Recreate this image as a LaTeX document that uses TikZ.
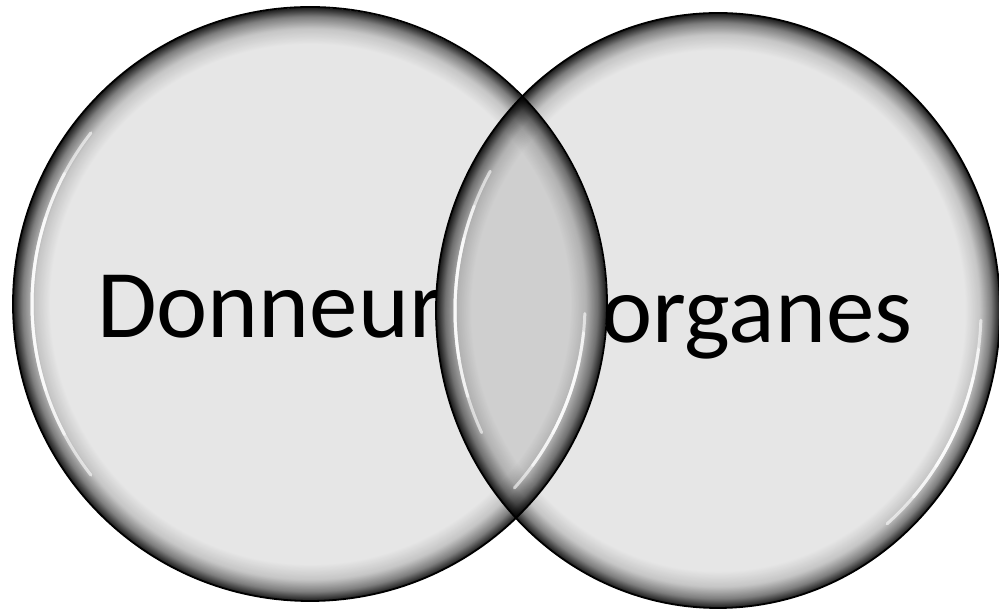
\documentclass[tikz,border=0pt]{standalone}
\usepackage{fontspec}
\setmainfont{Carlito}
\usetikzlibrary{fadings}
\definecolor{vnfill}{HTML}{E6E6E6}
\definecolor{vnlens}{HTML}{CFCFCF}
\definecolor{vnink}{HTML}{000000}

\pgfdeclareradialshading{rimshade}{\pgfpointorigin}{%
    color(0bp)=(pgftransparent!100);
    color(21.8bp)=(pgftransparent!100);
    color(23.1bp)=(pgftransparent!86);
    color(24.1bp)=(pgftransparent!55);
    color(24.7bp)=(pgftransparent!22);
    color(25bp)=(pgftransparent!6);
    color(50bp)=(pgftransparent!6)}
\pgfdeclarefading{rimfade}{\pgfuseshading{rimshade}}

\newcommand{\donneurdisc}{(cl) circle [radius=297]}
\newcommand{\organesdisc}{(cr) ellipse [x radius=282, y radius=297.5]}

\begin{document}
\begin{tikzpicture}[
    x=1pt, y=1pt,
    vnlabel/.style={
        anchor=base west,
        inner sep=0pt,
        font=\fontsize{97}{105}\selectfont,
        text=vnink
    },
    rim/.style={
        fill=black,
        path fading=rimfade
    },
    outline/.style={
        draw=black,
        line width=1.8pt
    },
    shine/.style={
        draw=white,
        opacity=0.6,
        line width=3pt,
        line cap=round
    }
]

\useasboundingbox (0,0) rectangle (999,609);
\clip (0,0) rectangle (999,609);

\coordinate (cl) at (310,305);
\coordinate (cr) at (718,298.5);

\fill[vnfill] \donneurdisc;
\fill[vnfill] \organesdisc;

\node[vnlabel] (donneur) at (97,271) {Donneur};
\node[vnlabel] (organes) at (601,266) {organes};

\begin{scope}
    \clip \donneurdisc;
    \fill[vnlens] \organesdisc;
\end{scope}

\path[rim] \donneurdisc;
\path[rim] \organesdisc;

\draw[outline] \donneurdisc;
\draw[outline] \organesdisc;

\foreach \a/\b in {162/198,152/208,142/218}
    \draw[shine] ([shift={(\a:278)}]cl) arc [start angle=\a, end angle=\b, radius=278];
\foreach \a/\b in {-28/-12,-36/-6,-42/-2}
    \draw[shine] ([shift={(\a:275)}]cl) arc [start angle=\a, end angle=\b, radius=275];
\foreach \a/\b in {165/190,158/198,150/206}
    \draw[shine] ([shift={(\a:263 and 278.5)}]cr) arc [start angle=\a, end angle=\b, x radius=263, y radius=278.5];
\foreach \a/\b in {-34/-14,-42/-8,-50/-2}
    \draw[shine] ([shift={(\a:263 and 278.5)}]cr) arc [start angle=\a, end angle=\b, x radius=263, y radius=278.5];

\end{tikzpicture}
\end{document}
